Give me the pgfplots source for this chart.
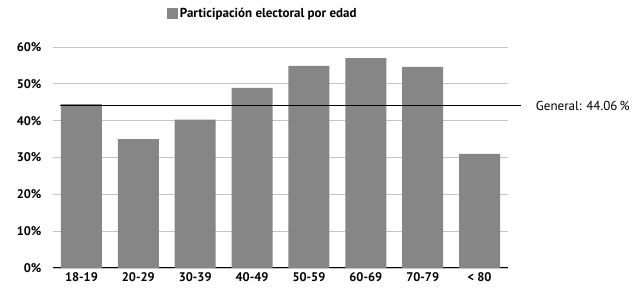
\documentclass[border=0pt]{standalone}
\usepackage{pgfplots}
\pgfplotsset{compat=1.18}
\usepackage{fontspec}
\setmainfont{PT Sans}
\definecolor{barg}{HTML}{868686}
\definecolor{gridg}{HTML}{C4C4C4}
\begin{document}
\begin{tikzpicture}
\useasboundingbox (-53pt,-31pt) rectangle (591pt,268pt);
\begin{axis}[
  scale only axis,
  width=455pt, height=221pt,
  xmin=-0.5, xmax=7.5,
  ymin=0, ymax=60,
  ytick={0,10,20,30,40,50,60},
  yticklabel={\pgfmathprintnumber{\tick}\%},
  xtick={0,1,2,3,4,5,6,7},
  xticklabels={18-19,20-29,30-39,40-49,50-59,60-69,70-79,{< 80}},
  /pgf/number format/assume math mode=true,
  ticklabel style={font=\bfseries\fontsize{12.5}{14}\selectfont},
  yticklabel style={xshift=-8pt},
  xticklabel style={yshift=-1pt},
  major tick length=0pt,
  axis lines*=left,
  y axis line style={draw=none},
  x axis line style={black, line width=1pt},
  ymajorgrids,
  grid style={gridg, line width=0.8pt},
  clip=false,
  legend style={at={(0.25,1.15)}, anchor=west, draw=none, fill=none,
    font=\bfseries\fontsize{13}{15}\selectfont, inner sep=0pt},
  legend image code/.code={\fill[#1] (0pt,-5.5pt) rectangle (11pt,5.5pt);},
]
\addplot[ybar, bar width=41pt, fill=barg, draw=none] coordinates {
(0,44.5) (1,35.0) (2,40.3) (3,48.9) (4,54.9) (5,57.0) (6,54.6) (7,31.0)
};
\addlegendentry{Participación electoral por edad}
\addplot[black, line width=0.9pt, forget plot] coordinates {(-0.38,44.06) (7.72,44.06)};
\node[anchor=west, font=\fontsize{13}{15}\selectfont] at (axis cs:7.93,44.06) {General: 44.06\,\%};
\end{axis}
\end{tikzpicture}
\end{document}
